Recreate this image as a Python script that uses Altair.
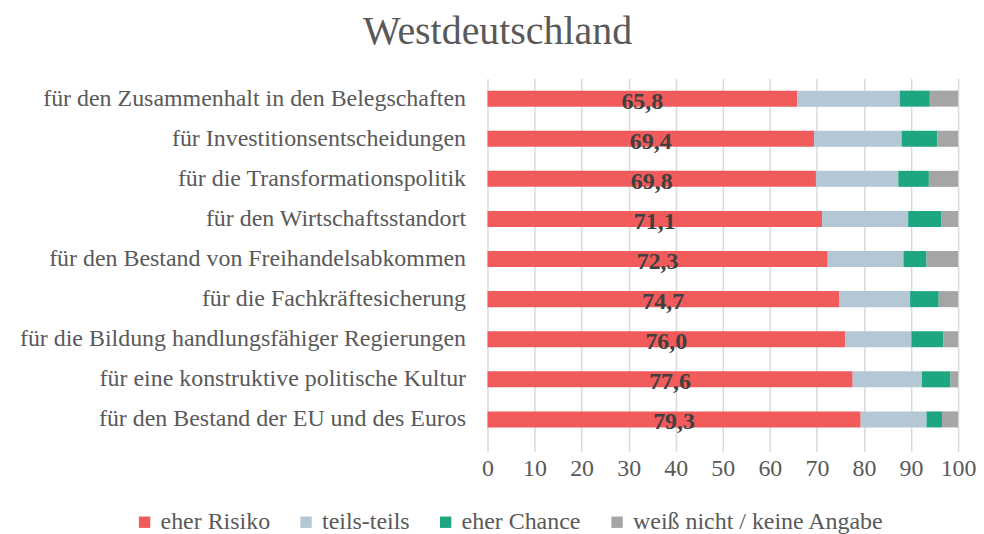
import altair as alt
import pandas as pd

categories = [
    "für den Zusammenhalt in den Belegschaften",
    "für Investitionsentscheidungen",
    "für die Transformationspolitik",
    "für den Wirtschaftsstandort",
    "für den Bestand von Freihandelsabkommen",
    "für die Fachkräftesicherung",
    "für die Bildung handlungsfähiger Regierungen ",
    "für eine konstruktive politische Kultur",
    "für den Bestand der EU und des Euros",
]
eher_risiko = [65.8, 69.4, 69.8, 71.1, 72.3, 74.7, 76.0, 77.6, 79.3]
teils_teils = [21.8, 18.6, 17.5, 18.3, 16.1, 15.1, 14.1, 14.7, 14.0]
eher_chance = [6.4, 7.6, 6.5, 7.1, 4.9, 6.1, 6.8, 6.1, 3.3]
weiss_nicht = [6.0, 4.4, 6.2, 3.5, 6.7, 4.1, 3.1, 1.6, 3.4]

series_names = ["eher Risiko", "teils-teils", "eher Chance", "weiß nicht / keine Angabe"]
series_values = [eher_risiko, teils_teils, eher_chance, weiss_nicht]
colors = ["#F15B5C", "#B4C7D4", "#1EA680", "#A5A5A5"]
x_ticks = [0, 10, 20, 30, 40, 50, 60, 70, 80, 90, 100]

rows = []
for s_i, (name, vals) in enumerate(zip(series_names, series_values)):
    for c, v in zip(categories, vals):
        rows.append({"cat": c, "series": name, "value": v, "order": s_i})
df = pd.DataFrame(rows)

lab_df = pd.DataFrame({
    "cat": categories,
    "value": eher_risiko,
    "label": [f"{v:.1f}".replace(".", ",") for v in eher_risiko],
})

FONT = "Liberation Serif"
GREY = "#595959"

x_axis = alt.Axis(values=x_ticks, labelFont=FONT, labelFontSize=24, title=None,
                  labelColor=GREY, gridColor="#D9D9D9", gridWidth=1.5,
                  domain=False, tickColor="#D9D9D9", tickWidth=1.5, tickSize=12,
                  labelPadding=5, labelFlush=False, labelOverlap=False)
y_axis = alt.Axis(labelFont=FONT, labelFontSize=24, labelColor=GREY, title=None,
                  labelPadding=22, ticks=False, domain=False, labelLimit=700)
x_scale = alt.Scale(domain=[0, 100], nice=False)
y_scale = alt.Scale(domain=categories, paddingInner=0.6, paddingOuter=0.3)

bars = alt.Chart(df).mark_bar().encode(
    x=alt.X("value:Q", stack="zero", title=None, scale=x_scale, axis=x_axis),
    y=alt.Y("cat:N", title=None, scale=y_scale, axis=y_axis),
    color=alt.Color("series:N", sort=series_names,
                    scale=alt.Scale(domain=series_names, range=colors),
                    legend=alt.Legend(title=None, orient="none", direction="horizontal",
                                      legendX=-356, legendY=433,
                                      labelFont=FONT, labelFontSize=24, labelColor=GREY,
                                      labelLimit=400,
                                      symbolType="square", symbolSize=130,
                                      symbolStrokeWidth=0, columnPadding=24,
                                      labelOffset=4)),
    order=alt.Order("order:Q"),
)

labels = alt.Chart(lab_df).mark_text(
    font=FONT, fontSize=24, fontWeight="bold", color="#404040", baseline="middle", dy=3
).transform_calculate(mid="datum.value / 2").encode(
    x=alt.X("mid:Q", title=None, scale=x_scale, axis=x_axis),
    y=alt.Y("cat:N", title=None, scale=y_scale, axis=y_axis),
    text="label:N",
)

chart = alt.layer(bars, labels).properties(
    width=472, height=362,
    title=alt.TitleParams("Westdeutschland", font=FONT, fontSize=40, color=GREY,
                          fontWeight="normal", anchor="middle", frame="bounds",
                          offset=27),
    padding={"left": 11, "right": 0, "top": 3, "bottom": 0},
).configure(font=FONT).configure_axis(labelFont=FONT).configure_legend(
    labelFont=FONT).configure_view(stroke=None)

chart.save("out.html", embed_options={"renderer": "svg", "actions": False})
